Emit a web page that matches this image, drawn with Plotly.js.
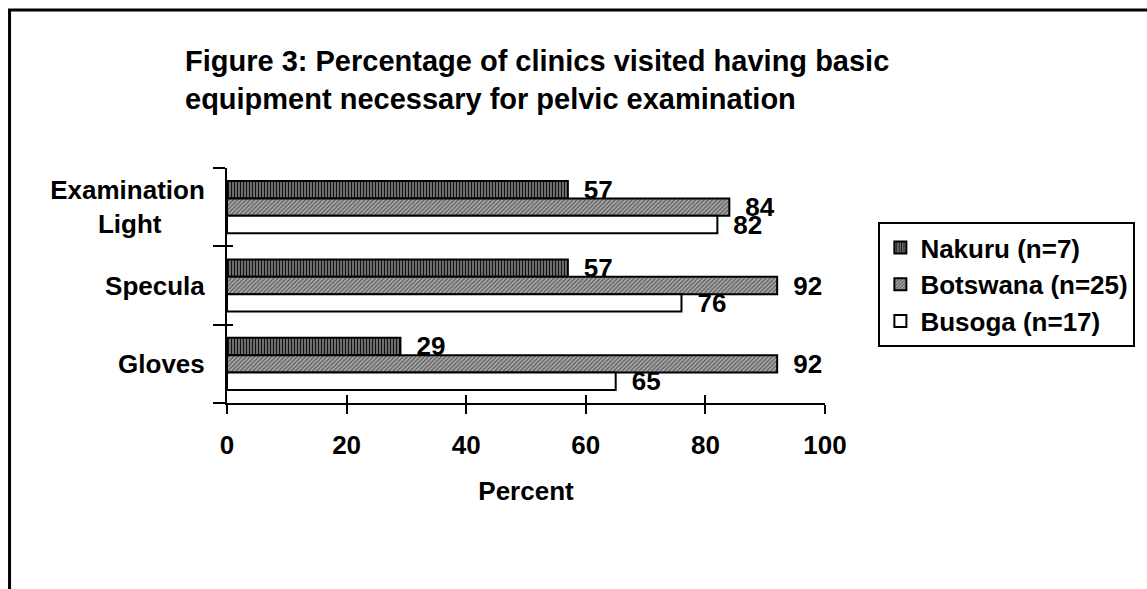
<!DOCTYPE html>
<html>
<head>
<meta charset="utf-8">
<script src="https://cdn.plot.ly/plotly-3.0.1.min.js"></script>
<style>
html,body{margin:0;padding:0;background:#fff;}
#chart{width:1147px;height:589px;}
</style>
</head>
<body>
<div id="chart"></div>
<script>
// ---- data ----
const categories = ["Examination", "Specula", "Gloves"];
const categoryLabels = ["Examination<br>Light\u00a0\u00a0\u00a0\u00a0\u00a0\u00a0", "Specula", "Gloves"];
const seriesNames = ["Nakuru (n=7)", "Botswana (n=25)", "Busoga (n=17)"];
const nakuru = [57, 57, 29];
const botswana = [84, 92, 92];
const busoga = [82, 76, 65];
const xTicks = [0, 20, 40, 60, 80, 100];

const FONT = "Liberation Sans, Arial, Helvetica, sans-serif";
const boldFont = (size) => ({family: FONT, size: size, color: "#000", weight: 700});

function barTrace(name, values, marker) {
  return {
    type: "bar",
    orientation: "h",
    name: name,
    y: categories,
    x: values,
    text: values.map(String),
    texttemplate: "\u2002%{text}",
    textposition: "outside",
    textfont: boldFont(26),
    constraintext: "none",
    cliponaxis: false,
    hoverinfo: "skip",
    marker: marker
  };
}

const traces = [
  barTrace(seriesNames[0], nakuru, {
    color: "#6a6a6a",
    line: {color: "#000", width: 2},
    pattern: {shape: "|", size: 3, solidity: 0.45, fgcolor: "#111", bgcolor: "#808080"}
  }),
  barTrace(seriesNames[1], botswana, {
    color: "#999",
    line: {color: "#000", width: 2},
    pattern: {shape: "/", size: 3, solidity: 0.4, fgcolor: "#5a5a5a", bgcolor: "#a8a8a8"}
  }),
  barTrace(seriesNames[2], busoga, {
    color: "#fff",
    line: {color: "#000", width: 2}
  }),
  {type: "scatter", x: [], y: [], xaxis: "x2", yaxis: "y2", showlegend: false, hoverinfo: "skip"}
];

const layout = {
  width: 1147,
  height: 589,
  autosize: false,
  paper_bgcolor: "#fff",
  plot_bgcolor: "#fff",
  margin: {l: 227, r: 315, t: 168, b: 186, pad: 0},
  barmode: "group",
  bargap: 0.333,
  bargroupgap: 0,
  showlegend: true,
  title: {
    text: "Figure 3: Percentage of clinics visited having basic<br>equipment necessary for pelvic examination",
    font: boldFont(29),
    x: 185 / 1147,
    xanchor: "left",
    xref: "container",
    y: 1 - 71 / 589,
    yanchor: "top",
    yref: "container"
  },
  xaxis: {
    range: [0, 100],
    tickvals: xTicks,
    ticktext: xTicks.map(String),
    ticks: "outside",
    ticklen: 9,
    tickwidth: 2,
    tickcolor: "#000",
    showline: true,
    linecolor: "#000",
    linewidth: 2,
    showgrid: false,
    zeroline: false,
    tickfont: boldFont(26),
    ticklabelstandoff: 9,
    title: {text: "Percent", font: boldFont(26), standoff: 23},
    fixedrange: true
  },
  xaxis2: {
    overlaying: "x",
    anchor: "y",
    range: [0, 100],
    tickvals: xTicks,
    ticks: "inside",
    ticklen: 8,
    tickwidth: 2,
    tickcolor: "#000",
    showticklabels: false,
    showgrid: false,
    zeroline: false,
    showline: false
  },
  yaxis: {
    type: "category",
    categoryorder: "array",
    categoryarray: categories,
    tickvals: categories,
    ticktext: categoryLabels,
    range: [2.5, -0.5],
    tickson: "boundaries",
    ticks: "outside",
    ticklen: 12,
    tickwidth: 2,
    tickcolor: "#000",
    showline: true,
    linecolor: "#000",
    linewidth: 2,
    showgrid: false,
    zeroline: false,
    tickfont: boldFont(26),
    ticklabelstandoff: 15,
    fixedrange: true
  },
  yaxis2: {
    overlaying: "y",
    anchor: "x",
    range: [2.5, -0.5],
    tickvals: [-0.5, 0.5, 1.5, 2.5],
    ticks: "inside",
    ticklen: 6,
    tickwidth: 2,
    tickcolor: "#000",
    showticklabels: false,
    showgrid: false,
    zeroline: false,
    showline: false
  },
  legend: {
    x: (886 - 227) / 605,
    y: (403 - 222) / 235,
    xanchor: "left",
    yanchor: "top",
    bordercolor: "#000",
    borderwidth: 2,
    bgcolor: "#fff",
    font: boldFont(26),
    traceorder: "normal",
    itemwidth: 30,
    tracegroupgap: 0
  },
  shapes: [{
    type: "rect",
    xref: "paper", yref: "paper",
    x0: (7 - 227) / 605, x1: (1160 - 227) / 605,
    y0: (403 - 600) / 235, y1: (403 - 10) / 235,
    line: {color: "#000", width: 3},
    fillcolor: "rgba(0,0,0,0)",
    layer: "below"
  }]
};

Plotly.newPlot("chart", traces, layout, {displayModeBar: false, staticPlot: true});
</script>
</body>
</html>
